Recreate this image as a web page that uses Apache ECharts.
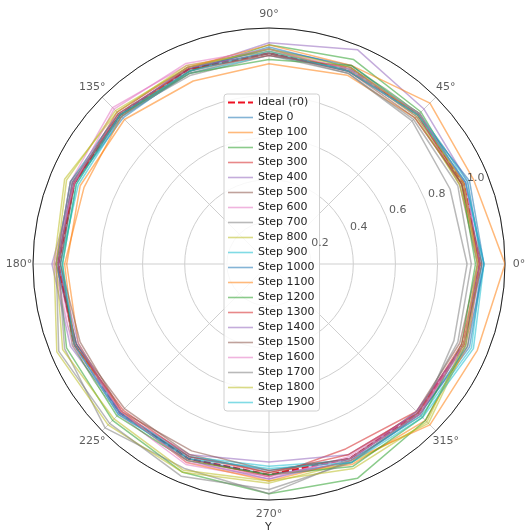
<!DOCTYPE html>
<html>
<head>
<meta charset="utf-8">
<script src="https://cdn.jsdelivr.net/npm/echarts@6/dist/echarts.min.js"></script>
<style>
  html, body { margin: 0; padding: 0; background: #fff; }
  #chart { width: 526px; height: 532px; }
</style>
</head>
<body>
<div id="chart"></div>
<script>
// Sample angles (degrees) of each contour
const angles = [0, 22.5, 45, 67.5, 90, 112.5, 135, 157.5, 180, 202.5, 225, 247.5, 270, 292.5, 315, 337.5];

// Reference contour
const idealName = 'Ideal (r0)';
const idealRadius = [1, 1, 1, 1, 1, 1, 1, 1, 1, 1, 1, 1, 1, 1, 1, 1];

// Contour radius per training step
const stepNames = ['Step 0', 'Step 100', 'Step 200', 'Step 300', 'Step 400', 'Step 500', 'Step 600',
  'Step 700', 'Step 800', 'Step 900', 'Step 1000', 'Step 1100', 'Step 1200', 'Step 1300',
  'Step 1400', 'Step 1500', 'Step 1600', 'Step 1700', 'Step 1800', 'Step 1900'];

const step0    = [1.02, 1.01, 0.99, 1.01, 1.03, 0.99, 0.98, 1.00, 0.99, 1.00, 1.01, 0.99, 0.98, 1.00, 1.01, 1.03];
const step100  = [1.00, 0.99, 0.98, 0.97, 0.95, 0.94, 0.97, 0.97, 0.96, 0.98, 1.00, 1.01, 1.00, 1.03, 1.05, 1.02];
const step200  = [0.99, 1.00, 1.02, 1.05, 1.04, 0.99, 1.00, 1.01, 1.00, 1.04, 1.05, 1.07, 1.09, 1.10, 1.05, 1.01];
const step300  = [1.00, 1.00, 1.01, 0.99, 1.00, 1.01, 1.02, 1.00, 1.01, 0.99, 0.99, 1.00, 1.01, 0.95, 0.99, 1.00];
const step400  = [1.01, 1.02, 1.04, 1.10, 1.05, 1.00, 0.99, 1.00, 1.03, 1.02, 1.00, 0.98, 0.94, 0.98, 1.00, 1.01];
const step500  = [0.99, 0.98, 1.00, 0.99, 1.02, 1.01, 1.00, 1.01, 1.00, 0.99, 0.97, 0.98, 0.99, 1.00, 0.99, 0.98];
const step600  = [1.00, 1.01, 0.99, 1.00, 1.01, 1.02, 1.05, 1.02, 1.01, 1.00, 1.01, 1.03, 1.02, 0.99, 1.00, 1.00];
const step700  = [0.94, 0.93, 0.96, 0.98, 0.99, 0.97, 1.00, 1.01, 1.00, 1.05, 1.10, 1.05, 1.09, 1.01, 1.02, 0.95];
const step800  = [1.00, 0.98, 0.99, 1.00, 1.01, 1.02, 1.02, 1.05, 1.02, 1.09, 1.08, 1.07, 1.04, 1.02, 1.07, 1.01];
const step900  = [1.01, 1.02, 1.01, 1.00, 0.99, 0.98, 0.99, 0.98, 0.99, 1.00, 1.00, 0.99, 0.96, 1.01, 1.02, 1.04];
const step1000 = [1.02, 1.03, 1.00, 1.02, 1.02, 1.00, 1.01, 1.02, 1.01, 0.99, 1.00, 1.00, 1.00, 1.02, 1.01, 1.02];
const step1100 = [1.12, 1.05, 1.08, 1.02, 1.04, 1.01, 0.99, 0.95, 0.97, 1.00, 0.99, 1.02, 1.03, 1.01, 1.08, 1.07];
const step1200 = [0.98, 0.99, 1.01, 1.02, 0.97, 0.98, 1.00, 0.99, 0.98, 1.01, 1.02, 1.01, 1.00, 1.04, 1.03, 0.99];
const step1300 = [1.00, 0.99, 1.00, 1.01, 0.99, 1.00, 1.01, 1.00, 1.00, 1.00, 0.98, 0.99, 0.99, 0.98, 1.00, 0.99];
const step1400 = [1.00, 1.01, 1.00, 0.99, 1.00, 1.01, 1.00, 1.01, 1.00, 0.98, 1.00, 1.01, 1.02, 1.01, 0.99, 1.00];
const step1500 = [1.01, 0.99, 0.98, 0.99, 1.00, 0.99, 1.00, 1.00, 0.99, 0.97, 0.99, 0.96, 0.98, 1.00, 1.01, 1.00];
const step1600 = [0.99, 1.00, 1.01, 1.00, 1.02, 1.03, 1.04, 1.00, 1.02, 1.01, 0.99, 1.02, 1.01, 1.00, 1.01, 1.00];
const step1700 = [0.96, 0.97, 0.97, 0.98, 1.00, 0.98, 0.99, 1.02, 1.01, 1.08, 1.07, 1.09, 1.07, 1.02, 1.00, 0.97];
const step1800 = [0.99, 1.00, 1.00, 1.01, 1.02, 1.01, 1.03, 1.04, 1.01, 1.06, 1.04, 1.06, 1.03, 1.05, 1.06, 1.00];
const step1900 = [1.02, 1.01, 1.00, 0.99, 1.01, 0.99, 1.00, 0.99, 0.98, 1.00, 1.01, 1.00, 0.97, 1.02, 1.03, 1.05];

const stepValues = [step0, step100, step200, step300, step400, step500, step600, step700, step800, step900,
  step1000, step1100, step1200, step1300, step1400, step1500, step1600, step1700, step1800, step1900];

// Tick labels
const radialTicks = [0.2, 0.4, 0.6, 0.8, 1.0];
const radialLabelAngle = 22.5;
const angleTicks = [0, 45, 90, 135, 180, 225, 270, 315];
const axisTitle = 'Y';

const palette = ['#1f77b4', '#ff7f0e', '#2ca02c', '#d62728', '#9467bd',
                 '#8c564b', '#e377c2', '#7f7f7f', '#bcbd22', '#17becf'];

// Legend swatches: a plain stroke and a dashed stroke
const solidIcon = 'path://M0 0h25v1.6h-25z';
const dashedIcon = 'path://M0 0h7v2h-7zM10 0h7v2h-7zM20 0h5v2h-5z';

// Closed polygon in [radius, angle] order for the polar system
function closed(vals) {
  const pts = angles.map((a, i) => [vals[i], a]);
  pts.push([vals[0], 360]);
  return pts;
}

const rMax = Math.max(...stepValues.flat(), ...idealRadius);
const plotRadius = 236;
const angleLabelPad = 14;
const font = 'DejaVu Sans';
const idealColor = '#ee1122';

const series = [{
  name: idealName,
  type: 'line',
  coordinateSystem: 'polar',
  data: closed(idealRadius),
  symbol: 'none',
  silent: true,
  z: 2,
  lineStyle: { color: idealColor, width: 2, type: [7, 3] },
  itemStyle: { color: idealColor }
}];

stepNames.forEach((name, k) => {
  const c = palette[k % palette.length];
  series.push({
    name: name,
    type: 'line',
    coordinateSystem: 'polar',
    data: closed(stepValues[k]),
    symbol: 'none',
    silent: true,
    z: 3,
    lineStyle: { color: c, width: 1.5, opacity: 0.55 },
    itemStyle: { color: c, opacity: 0.55 }
  });
});

// Radial tick labels along a fixed angle
series.push({
  type: 'scatter',
  coordinateSystem: 'polar',
  data: radialTicks.map(v => [v, radialLabelAngle]),
  symbolSize: 0,
  silent: true,
  z: 5,
  label: {
    show: true,
    position: 'inside',
    offset: [12, -5],
    formatter: p => p.value[0].toFixed(1),
    color: '#333',
    fontFamily: font,
    fontSize: 11
  }
});

// Angular tick labels, centred just outside the outer ring
const angleLabelR = rMax * (plotRadius + angleLabelPad) / plotRadius;
series.push({
  type: 'scatter',
  coordinateSystem: 'polar',
  data: angleTicks.map(a => [angleLabelR, a]),
  symbolSize: 0,
  silent: true,
  clip: false,
  z: 5,
  label: {
    show: true,
    position: 'inside',
    formatter: p => p.value[1] + '°',
    color: '#333',
    fontFamily: font,
    fontSize: 11
  }
});

const legendData = [{ name: idealName, icon: dashedIcon }]
  .concat(stepNames.map(n => ({ name: n, icon: solidIcon })));

const chart = echarts.init(document.getElementById('chart'), null, { renderer: 'canvas' });
chart.setOption({
  backgroundColor: '#fff',
  animation: false,
  polar: { center: [269, 264], radius: plotRadius },
  angleAxis: {
    type: 'value',
    min: 0,
    max: 360,
    interval: 45,
    startAngle: 0,
    clockwise: false,
    axisLine: { lineStyle: { color: '#222', width: 1 } },
    axisTick: { show: false },
    axisLabel: { show: false },
    splitLine: { lineStyle: { color: '#cfcfcf', width: 1 } }
  },
  radiusAxis: {
    type: 'value',
    min: 0,
    max: rMax,
    interval: 0.2,
    axisLine: { show: false },
    axisTick: { show: false },
    axisLabel: { show: false },
    splitLine: { lineStyle: { color: '#cfcfcf', width: 1 } }
  },
  legend: {
    data: legendData,
    orient: 'vertical',
    left: 224,
    top: 94,
    itemWidth: 25,
    itemHeight: 12,
    itemGap: 4,
    padding: [3, 5, 3, 4],
    backgroundColor: 'rgba(255,255,255,0.85)',
    borderColor: '#d0d0d0',
    borderWidth: 1,
    borderRadius: 3,
    selectedMode: false,
    textStyle: { color: '#222', fontFamily: font, fontSize: 11 }
  },
  graphic: [{
    type: 'text',
    left: 265,
    top: 522,
    style: { text: axisTitle, fill: '#333', font: '11px "DejaVu Sans"' }
  }],
  series: series
});
</script>
</body>
</html>
